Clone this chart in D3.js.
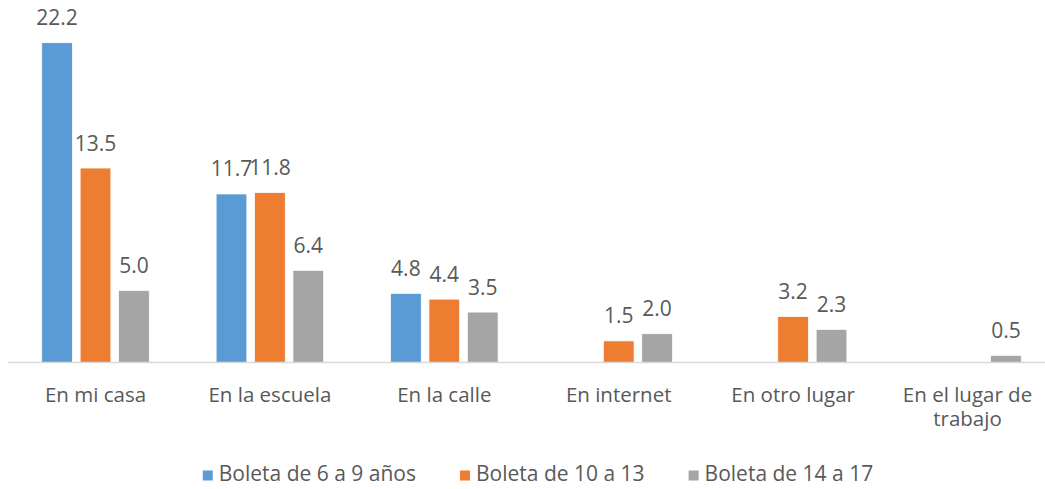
<!DOCTYPE html>
<html><head><meta charset="utf-8">
<script src="https://cdn.jsdelivr.net/npm/d3@7"></script>
<style>
html,body{margin:0;padding:0;background:#fff;overflow:hidden;}
text{font-family:"Open Sans",sans-serif;fill:#595959;}
</style></head>
<body><svg id="chart" width="1045" height="489"></svg>
<script>
const categories = ["En mi casa","En la escuela","En la calle","En internet","En otro lugar","En el lugar de trabajo"];
const seriesNames = ["Boleta de 6 a 9 años","Boleta de 10 a 13","Boleta de 14 a 17"];
const serie6a9 = [22.2, 11.7, 4.8, null, null, null];
const serie10a13 = [13.5, 11.8, 4.4, 1.5, 3.2, null];
const serie14a17 = [5.0, 6.4, 3.5, 2.0, 2.3, 0.5];
const seriesValues = [serie6a9, serie10a13, serie14a17];
const colors = ["#5B9BD5","#ED7D31","#A5A5A5"];

const svg = d3.select("#chart");
const W = 1045, H = 489;
const baseY = 362.5;
const x = d3.scaleBand().domain(categories).range([8.3, 1054.7]).paddingInner(0).paddingOuter(0);
const xSub = d3.scaleBand().domain(d3.range(seriesNames.length)).range([0, x.bandwidth()]).paddingInner(0.2).paddingOuter(0.87);
const y = d3.scaleLinear().domain([0, 22.2]).range([baseY, 42.7]);

// bars
seriesValues.forEach((vals, si) => {
  const data = categories.map((c, i) => ({c, v: vals[i]})).filter(d => d.v != null);
  svg.append("g").selectAll("rect").data(data).enter().append("rect")
    .attr("x", d => x(d.c) + xSub(si))
    .attr("y", d => y(d.v))
    .attr("width", xSub.bandwidth())
    .attr("height", d => baseY - y(d.v))
    .attr("fill", colors[si])
    .attr("stroke", "#fff").attr("stroke-width", 0.75);
  svg.append("g").selectAll("text").data(data).enter().append("text")
    .attr("x", d => x(d.c) + xSub(si) + xSub.bandwidth()/2)
    .attr("y", d => y(d.v) - 17.5)
    .attr("text-anchor", "middle")
    .attr("font-size", 21)
    .text(d => d.v.toFixed(1));
});

// axis
const axis = d3.axisBottom(x).tickSize(0).tickPadding(0);
const gAxis = svg.append("g").attr("transform", `translate(0,${baseY})`).call(axis);
gAxis.select(".domain").attr("stroke", "#D9D9D9").attr("stroke-width", 1.5).attr("d", `M8,0H${W}`);
gAxis.selectAll(".tick text").attr("font-size", 20.5).attr("fill", "#595959")
  .attr("font-family", "Open Sans, sans-serif").attr("dy", null).attr("y", 39.5)
  .each(function(d){
    const t = d3.select(this);
    const words = d.split(" ");
    t.text(null);
    let line = [];
    let tspan = t.append("tspan").attr("x", 0);
    words.forEach(w => {
      line.push(w);
      tspan.text(line.join(" "));
      if (tspan.node().getComputedTextLength() > 150 && line.length > 1) {
        line.pop();
        tspan.text(line.join(" "));
        line = [w];
        tspan = t.append("tspan").attr("x", 0).attr("dy", 24).text(w);
      }
    });
  });

// legend
const lg = svg.append("g");
let cx = 0;
seriesNames.forEach((n, i) => {
  const g = lg.append("g");
  g.append("rect").attr("x", 0).attr("y", -10.5).attr("width", 10).attr("height", 10).attr("fill", colors[i]);
  const t = g.append("text").attr("x", 16).attr("y", 0).attr("font-size", 21).text(n);
  const w = 16 + t.node().getComputedTextLength();
  g.attr("transform", `translate(${cx},0)`);
  cx += w + 44;
});
const totalW = cx - 44;
lg.attr("transform", `translate(${538 - totalW/2},481)`);
</script></body></html>
